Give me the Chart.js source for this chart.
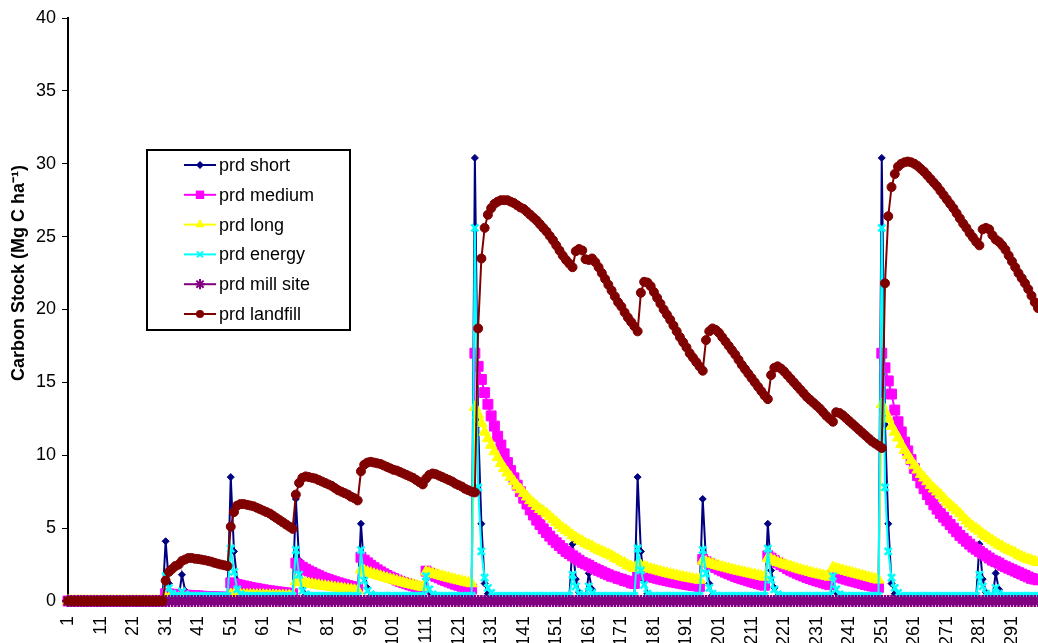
<!DOCTYPE html>
<html>
<head>
<meta charset="utf-8">
<script src="https://cdn.jsdelivr.net/npm/chart.js@4.4.1/dist/chart.umd.min.js"></script>
<style>
  html, body { margin: 0; padding: 0; background: #fff; }
  #wrap { width: 1038px; height: 643px; }
</style>
</head>
<body>
<div id="wrap"><canvas id="chart" width="1038" height="643"></canvas></div>
<script>
// years 1..299 on the category axis, a label every 10 years
const years = Array.from({ length: 299 }, (_, i) => String(i + 1));
const yTicks = [0, 5, 10, 15, 20, 25, 30, 35, 40];
const yTitle = 'Carbon Stock (Mg C ha\u207B\u00B9)';
const seriesNames = ['prd short', 'prd medium', 'prd long', 'prd energy', 'prd mill site', 'prd landfill'];

const prdShort = [
  0, 0, 0, 0, 0, 0, 0, 0, 0, 0,
  0, 0, 0, 0, 0, 0, 0, 0, 0, 0,
  0, 0, 0, 0, 0, 0, 0, 0, 0, 0,
  4.1, 1.2, 0.4, 0.2, 0.2, 1.8, 0.7, 0.3, 0.2, 0.2,
  0.2, 0.2, 0.2, 0.2, 0.2, 0.2, 0.2, 0.2, 0.2, 0.2,
  8.5, 3.4, 1.4, 0.5, 0.2, 0.2, 0.2, 0.2, 0.2, 0.2,
  0.2, 0.2, 0.2, 0.2, 0.2, 0.2, 0.2, 0.2, 0.2, 0.2,
  7.0, 2.8, 1.2, 0.4, 0.2, 0.2, 0.2, 0.2, 0.2, 0.2,
  0.2, 0.2, 0.2, 0.2, 0.2, 0.2, 0.2, 0.2, 0.2, 0.2,
  5.3, 2.1, 0.9, 0.35, 0.2, 0.2, 0.2, 0.2, 0.2, 0.2,
  0.2, 0.2, 0.2, 0.2, 0.2, 0.2, 0.2, 0.2, 0.2, 0.2,
  1.5, 0.6, 0.3, 0.2, 0.2, 0.2, 0.2, 0.2, 0.2, 0.2,
  0.2, 0.2, 0.2, 0.2, 0.2, 30.4, 12.1, 5.3, 1.2, 0.5,
  0.3, 0.2, 0.2, 0.2, 0.2, 0.2, 0.2, 0.2, 0.2, 0.2,
  0.2, 0.2, 0.2, 0.2, 0.2, 0.2, 0.2, 0.2, 0.2, 0.2,
  0.2, 0.2, 0.2, 0.2, 0.2, 3.9, 1.5, 0.6, 0.3, 0.2,
  1.9, 0.8, 0.3, 0.2, 0.2, 0.2, 0.2, 0.2, 0.2, 0.2,
  0.2, 0.2, 0.2, 0.2, 0.2, 8.5, 3.4, 1.4, 0.5, 0.2,
  0.2, 0.2, 0.2, 0.2, 0.2, 0.2, 0.2, 0.2, 0.2, 0.2,
  0.2, 0.2, 0.2, 0.2, 0.2, 7.0, 2.8, 1.2, 0.4, 0.2,
  0.2, 0.2, 0.2, 0.2, 0.2, 0.2, 0.2, 0.2, 0.2, 0.2,
  0.2, 0.2, 0.2, 0.2, 0.2, 5.3, 2.1, 0.9, 0.35, 0.2,
  0.2, 0.2, 0.2, 0.2, 0.2, 0.2, 0.2, 0.2, 0.2, 0.2,
  0.2, 0.2, 0.2, 0.2, 0.2, 1.5, 0.6, 0.3, 0.2, 0.2,
  0.2, 0.2, 0.2, 0.2, 0.2, 0.2, 0.2, 0.2, 0.2, 0.2,
  30.4, 12.1, 5.3, 1.2, 0.5, 0.3, 0.2, 0.2, 0.2, 0.2,
  0.2, 0.2, 0.2, 0.2, 0.2, 0.2, 0.2, 0.2, 0.2, 0.2,
  0.2, 0.2, 0.2, 0.2, 0.2, 0.2, 0.2, 0.2, 0.2, 0.2,
  3.9, 1.5, 0.6, 0.3, 0.2, 1.9, 0.8, 0.3, 0.2, 0.2,
  0.2, 0.2, 0.2, 0.2, 0.2, 0.2, 0.2, 0.2, 0.2
];

const prdMedium = [
  0, 0, 0, 0, 0, 0, 0, 0, 0, 0,
  0, 0, 0, 0, 0, 0, 0, 0, 0, 0,
  0, 0, 0, 0, 0, 0, 0, 0, 0, 0,
  0.5, 0.48, 0.46, 0.45, 0.43, 0.42, 0.4, 0.39, 0.37, 0.36,
  0.35, 0.33, 0.32, 0.31, 0.3, 0.29, 0.28, 0.27, 0.26, 0.25,
  1.25, 1.19, 1.13, 1.08, 1.03, 0.98, 0.93, 0.89, 0.85, 0.81,
  0.77, 0.73, 0.7, 0.67, 0.64, 0.61, 0.58, 0.55, 0.53, 0.5,
  2.6, 2.45, 2.31, 2.18, 2.06, 1.95, 1.84, 1.74, 1.64, 1.55,
  1.47, 1.39, 1.32, 1.25, 1.18, 1.12, 1.06, 1.0, 0.95, 0.9,
  3.0, 2.8, 2.62, 2.45, 2.29, 2.14, 2.0, 1.87, 1.75, 1.64,
  1.54, 1.44, 1.35, 1.27, 1.19, 1.11, 1.04, 0.97, 0.9, 0.84,
  2.05, 1.92, 1.8, 1.69, 1.59, 1.49, 1.4, 1.31, 1.23, 1.15,
  1.08, 1.01, 0.94, 0.88, 0.82,
  17.0, 16.1, 15.2, 14.3, 13.5, 12.7, 12.0, 11.3, 10.7, 10.1,
  9.5, 8.95, 8.45, 7.95, 7.5, 7.05, 6.65, 6.25, 5.9, 5.55,
  5.25, 4.95, 4.7, 4.45, 4.2, 4.0, 3.8, 3.6, 3.4, 3.25,
  3.1, 2.95, 2.8, 2.65, 2.55, 2.45, 2.3, 2.2, 2.1, 2.0,
  1.9, 1.8, 1.7, 1.65, 1.55, 1.5, 1.4, 1.35, 1.25, 1.2,
  1.95, 1.88, 1.8, 1.74, 1.68, 1.62, 1.56, 1.5, 1.45, 1.4,
  1.35, 1.3, 1.26, 1.22, 1.18, 1.14, 1.1, 1.07, 1.04, 1.0,
  2.85, 2.7, 2.56, 2.43, 2.3, 2.18, 2.07, 1.97, 1.87, 1.78,
  1.69, 1.61, 1.53, 1.46, 1.39, 1.32, 1.26, 1.2, 1.14, 1.08,
  3.1, 2.94, 2.78, 2.63, 2.49, 2.36, 2.23, 2.11, 2.0, 1.9,
  1.8, 1.71, 1.62, 1.54, 1.46, 1.39, 1.32, 1.25, 1.18, 1.12,
  1.8, 1.72, 1.64, 1.57, 1.5, 1.43, 1.37, 1.31, 1.25, 1.19,
  1.13, 1.08, 1.03, 0.98, 0.93,
  17.0, 16.0, 15.1, 14.2, 13.1, 12.3, 11.6, 10.9, 10.3, 9.7,
  9.1, 8.6, 8.1, 7.7, 7.3, 6.95, 6.6, 6.3, 6.0, 5.75,
  5.5, 5.25, 5.0, 4.75, 4.5, 4.3, 4.1, 3.9, 3.7, 3.55,
  3.4, 3.25, 3.1, 2.95, 2.8, 2.7, 2.6, 2.45, 2.35, 2.25,
  2.15, 2.05, 1.95, 1.85, 1.75, 1.65, 1.55, 1.5, 1.45
];

const prdLong = [
  0, 0, 0, 0, 0, 0, 0, 0, 0, 0,
  0, 0, 0, 0, 0, 0, 0, 0, 0, 0,
  0, 0, 0, 0, 0, 0, 0, 0, 0, 0,
  0.2, 0.2, 0.2, 0.19, 0.19, 0.19, 0.18, 0.18, 0.18, 0.18,
  0.17, 0.17, 0.17, 0.17, 0.16, 0.16, 0.16, 0.16, 0.15, 0.15,
  0.45, 0.44, 0.44, 0.43, 0.43, 0.42, 0.42, 0.41, 0.41, 0.4,
  0.4, 0.39, 0.39, 0.38, 0.38, 0.37, 0.37, 0.36, 0.36, 0.35,
  1.35, 1.31, 1.27, 1.23, 1.19, 1.15, 1.11, 1.08, 1.04, 1.01,
  0.98, 0.95, 0.92, 0.89, 0.86, 0.83, 0.8, 0.77, 0.74, 0.72,
  2.15, 2.07, 1.99, 1.91, 1.84, 1.77, 1.7, 1.63, 1.56, 1.5,
  1.44, 1.38, 1.32, 1.26, 1.2, 1.15, 1.1, 1.04, 0.99, 0.94,
  2.0, 1.94, 1.88, 1.82, 1.76, 1.7, 1.64, 1.58, 1.52, 1.46,
  1.41, 1.36, 1.3, 1.25, 1.2,
  13.3, 12.8, 12.2, 11.6, 11.15, 10.7, 10.25, 9.85, 9.45, 9.1,
  8.8, 8.5, 8.2, 7.9, 7.65, 7.4, 7.15, 6.9, 6.7, 6.5,
  6.3, 6.15, 6.0, 5.8, 5.6, 5.4, 5.2, 5.0, 4.85, 4.7,
  4.5, 4.35, 4.2, 4.1, 3.95, 3.85, 3.75, 3.6, 3.5, 3.4,
  3.3, 3.2, 3.1, 2.95, 2.85, 2.7, 2.6, 2.45, 2.35, 2.25,
  2.5, 2.42, 2.35, 2.28, 2.2, 2.14, 2.08, 2.02, 1.96, 1.9,
  1.85, 1.8, 1.75, 1.7, 1.65, 1.6, 1.56, 1.52, 1.48, 1.44,
  2.75, 2.67, 2.6, 2.53, 2.46, 2.4, 2.34, 2.28, 2.22, 2.16,
  2.1, 2.05, 2.0, 1.95, 1.9, 1.85, 1.8, 1.75, 1.7, 1.65,
  2.95, 2.85, 2.75, 2.66, 2.58, 2.5, 2.43, 2.36, 2.29, 2.22,
  2.15, 2.09, 2.03, 1.97, 1.91, 1.85, 1.8, 1.75, 1.7, 1.65,
  2.3, 2.23, 2.16, 2.1, 2.04, 1.98, 1.92, 1.86, 1.8, 1.74,
  1.68, 1.62, 1.56, 1.5, 1.45,
  13.5, 13.0, 12.5, 12.0, 11.6, 11.2, 10.75, 10.35, 10.0, 9.65,
  9.3, 9.0, 8.7, 8.45, 8.2, 7.95, 7.7, 7.5, 7.3, 7.05,
  6.8, 6.6, 6.4, 6.2, 6.0, 5.75, 5.5, 5.3, 5.1, 4.95,
  4.8, 4.6, 4.45, 4.3, 4.15, 4.0, 3.85, 3.75, 3.6, 3.5,
  3.4, 3.3, 3.15, 3.05, 2.95, 2.85, 2.8, 2.7, 2.65
];

const prdEnergy = [
  0, 0, 0, 0, 0, 0, 0, 0, 0, 0,
  0, 0, 0, 0, 0, 0, 0, 0, 0, 0,
  0, 0, 0, 0, 0, 0, 0, 0, 0, 0,
  1.7, 0.9, 0.5, 0.35, 0.35, 0.65, 0.45, 0.35, 0.35, 0.35,
  0.35, 0.35, 0.35, 0.35, 0.35, 0.35, 0.35, 0.35, 0.35, 0.35,
  3.6, 2.0, 0.8, 0.45, 0.35, 0.35, 0.35, 0.35, 0.35, 0.35,
  0.35, 0.35, 0.35, 0.35, 0.35, 0.35, 0.35, 0.35, 0.35, 0.35,
  3.5, 1.8, 0.7, 0.45, 0.35, 0.35, 0.35, 0.35, 0.35, 0.35,
  0.35, 0.35, 0.35, 0.35, 0.35, 0.35, 0.35, 0.35, 0.35, 0.35,
  3.5, 1.4, 0.7, 0.45, 0.35, 0.35, 0.35, 0.35, 0.35, 0.35,
  0.35, 0.35, 0.35, 0.35, 0.35, 0.35, 0.35, 0.35, 0.35, 0.35,
  1.7, 0.8, 0.45, 0.35, 0.35, 0.35, 0.35, 0.35, 0.35, 0.35,
  0.35, 0.35, 0.35, 0.35, 0.35, 25.6, 7.8, 3.4, 1.6, 0.9,
  0.55, 0.35, 0.35, 0.35, 0.35, 0.35, 0.35, 0.35, 0.35, 0.35,
  0.35, 0.35, 0.35, 0.35, 0.35, 0.35, 0.35, 0.35, 0.35, 0.35,
  0.35, 0.35, 0.35, 0.35, 0.35, 1.8, 1.0, 0.5, 0.35, 0.35,
  1.0, 0.55, 0.35, 0.35, 0.35, 0.35, 0.35, 0.35, 0.35, 0.35,
  0.35, 0.35, 0.35, 0.35, 0.35, 3.6, 2.1, 1.1, 0.5, 0.35,
  0.35, 0.35, 0.35, 0.35, 0.35, 0.35, 0.35, 0.35, 0.35, 0.35,
  0.35, 0.35, 0.35, 0.35, 0.35, 3.5, 1.9, 0.9, 0.5, 0.35,
  0.35, 0.35, 0.35, 0.35, 0.35, 0.35, 0.35, 0.35, 0.35, 0.35,
  0.35, 0.35, 0.35, 0.35, 0.35, 3.6, 1.45, 0.8, 0.45, 0.35,
  0.35, 0.35, 0.35, 0.35, 0.35, 0.35, 0.35, 0.35, 0.35, 0.35,
  0.35, 0.35, 0.35, 0.35, 0.35, 1.7, 0.8, 0.45, 0.35, 0.35,
  0.35, 0.35, 0.35, 0.35, 0.35, 0.35, 0.35, 0.35, 0.35, 0.35,
  25.6, 7.8, 3.4, 1.6, 0.9, 0.55, 0.35, 0.35, 0.35, 0.35,
  0.35, 0.35, 0.35, 0.35, 0.35, 0.35, 0.35, 0.35, 0.35, 0.35,
  0.35, 0.35, 0.35, 0.35, 0.35, 0.35, 0.35, 0.35, 0.35, 0.35,
  1.8, 1.0, 0.5, 0.35, 0.35, 0.9, 0.5, 0.35, 0.35, 0.35,
  0.35, 0.35, 0.35, 0.35, 0.35, 0.35, 0.35, 0.35, 0.35
];

const prdMillSite = [
  0, 0, 0, 0, 0, 0, 0, 0, 0, 0, 0, 0, 0, 0, 0, 0, 0, 0, 0, 0,
  0, 0, 0, 0, 0, 0, 0, 0, 0, 0, 0, 0, 0, 0, 0, 0, 0, 0, 0, 0,
  0, 0, 0, 0, 0, 0, 0, 0, 0, 0, 0, 0, 0, 0, 0, 0, 0, 0, 0, 0,
  0, 0, 0, 0, 0, 0, 0, 0, 0, 0, 0, 0, 0, 0, 0, 0, 0, 0, 0, 0,
  0, 0, 0, 0, 0, 0, 0, 0, 0, 0, 0, 0, 0, 0, 0, 0, 0, 0, 0, 0,
  0, 0, 0, 0, 0, 0, 0, 0, 0, 0, 0, 0, 0, 0, 0, 0, 0, 0, 0, 0,
  0, 0, 0, 0, 0, 0, 0, 0, 0, 0, 0, 0, 0, 0, 0, 0, 0, 0, 0, 0,
  0, 0, 0, 0, 0, 0, 0, 0, 0, 0, 0, 0, 0, 0, 0, 0, 0, 0, 0, 0,
  0, 0, 0, 0, 0, 0, 0, 0, 0, 0, 0, 0, 0, 0, 0, 0, 0, 0, 0, 0,
  0, 0, 0, 0, 0, 0, 0, 0, 0, 0, 0, 0, 0, 0, 0, 0, 0, 0, 0, 0,
  0, 0, 0, 0, 0, 0, 0, 0, 0, 0, 0, 0, 0, 0, 0, 0, 0, 0, 0, 0,
  0, 0, 0, 0, 0, 0, 0, 0, 0, 0, 0, 0, 0, 0, 0, 0, 0, 0, 0, 0,
  0, 0, 0, 0, 0, 0, 0, 0, 0, 0, 0, 0, 0, 0, 0, 0, 0, 0, 0, 0,
  0, 0, 0, 0, 0, 0, 0, 0, 0, 0, 0, 0, 0, 0, 0, 0, 0, 0, 0, 0,
  0, 0, 0, 0, 0, 0, 0, 0, 0, 0, 0, 0, 0, 0, 0, 0, 0, 0, 0
];

const prdLandfill = [
  0, 0, 0, 0, 0, 0, 0, 0, 0, 0,
  0, 0, 0, 0, 0, 0, 0, 0, 0, 0,
  0, 0, 0, 0, 0, 0, 0, 0, 0, 0,
  1.4, 2.0, 2.2, 2.4, 2.5, 2.75, 2.85, 2.95, 2.95, 2.9,
  2.88, 2.84, 2.8, 2.75, 2.7, 2.62, 2.56, 2.5, 2.45, 2.4,
  5.1, 6.1, 6.55, 6.65, 6.65, 6.6, 6.55, 6.5, 6.4, 6.3,
  6.2, 6.1, 6.0, 5.85, 5.7, 5.55, 5.4, 5.25, 5.1, 4.95,
  7.3, 8.1, 8.45, 8.55, 8.5, 8.45, 8.4, 8.3, 8.2, 8.1,
  8.0, 7.9, 7.75, 7.6, 7.5, 7.4, 7.3, 7.15, 7.05, 6.9,
  8.9, 9.35, 9.5, 9.55, 9.5, 9.45, 9.4, 9.3, 9.2, 9.1,
  9.0, 8.95, 8.85, 8.75, 8.65, 8.55, 8.45, 8.3, 8.15, 8.0,
  8.4, 8.65, 8.75, 8.7, 8.6, 8.5, 8.4, 8.3, 8.2, 8.05,
  7.95, 7.85, 7.7, 7.6, 7.5,
  7.45, 18.7, 23.5, 25.6, 26.5, 26.95, 27.25, 27.4, 27.5, 27.5,
  27.5, 27.4, 27.3, 27.15, 27.0, 26.9, 26.7, 26.5, 26.3, 26.1,
  25.85, 25.6, 25.35, 25.05, 24.75, 24.4, 24.05, 23.7, 23.4, 23.15,
  22.9,
  24.0, 24.15, 24.05, 23.45, 23.4, 23.5, 23.25, 22.9, 22.5, 22.1,
  21.7, 21.3, 20.9, 20.5, 20.2, 19.8, 19.45, 19.15, 18.85, 18.5,
  21.15, 21.9, 21.85, 21.6, 21.2, 20.8, 20.4, 20.0, 19.65, 19.3,
  18.9, 18.5, 18.1, 17.75, 17.4, 17.0, 16.7, 16.4, 16.1, 15.8,
  17.9, 18.5, 18.7, 18.6, 18.4, 18.1, 17.8, 17.5, 17.2, 16.9,
  16.55, 16.2, 15.9, 15.6, 15.3, 15.0, 14.7, 14.4, 14.1, 13.85,
  15.5, 16.0, 16.1, 15.95, 15.75, 15.5, 15.25, 15.0, 14.75, 14.5,
  14.25, 14.0, 13.8, 13.6, 13.4, 13.2, 12.95, 12.7, 12.5, 12.3,
  12.95, 12.9, 12.75, 12.55, 12.35, 12.15, 11.95, 11.75, 11.55, 11.35,
  11.15, 10.95, 10.8, 10.65, 10.5,
  21.8, 26.4, 28.4, 29.3, 29.8, 30.0, 30.1, 30.15, 30.1, 30.0,
  29.85, 29.65, 29.45, 29.2, 28.95, 28.7, 28.45, 28.15, 27.85, 27.55,
  27.25, 26.95, 26.6, 26.25, 25.9, 25.6, 25.25, 24.95, 24.65, 24.4,
  25.5, 25.6, 25.5, 25.1, 24.8, 24.65, 24.4, 24.1, 23.7, 23.3,
  22.9, 22.5, 22.15, 21.8, 21.4, 20.95, 20.5, 20.1
];

const allSeries = [prdShort, prdMedium, prdLong, prdEnergy, prdMillSite, prdLandfill];
allSeries.forEach((s, i) => {
  if (s.length !== years.length) throw new Error(seriesNames[i] + ' has ' + s.length + ' values');
});

const colors = ['#000080', '#FF00FF', '#FFFF00', '#00FFFF', '#800080', '#800000'];
const markers = ['rectRot', 'rect', 'triangle', 'crossRot', 'star', 'circle'];
const radii = [3.5, 7, 6.5, 5, 6, 4.5];

const FONT = "'Liberation Sans', Arial, sans-serif";

// excel draws later series on top, chart.js draws lower order on top
const datasets = allSeries.map((data, i) => ({
  label: seriesNames[i],
  data: data,
  borderColor: colors[i],
  backgroundColor: colors[i],
  borderWidth: 2,
  pointStyle: markers[i],
  pointRadius: radii[i],
  pointBorderColor: colors[i],
  pointBackgroundColor: colors[i],
  pointBorderWidth: (markers[i] === 'crossRot' || markers[i] === 'star') ? 2.5 : 1,
  tension: 0,
  clip: false,
  order: 6 - i
}));

function drawMarker(ctx, style, x, y, r, color) {
  ctx.save();
  ctx.fillStyle = color;
  ctx.strokeStyle = color;
  ctx.lineWidth = 2;
  ctx.beginPath();
  if (style === 'circle') {
    ctx.arc(x, y, r, 0, Math.PI * 2);
    ctx.fill();
  } else if (style === 'rect') {
    const s = r / Math.SQRT2;
    ctx.fillRect(x - s, y - s, 2 * s, 2 * s);
  } else if (style === 'rectRot') {
    ctx.moveTo(x, y - r); ctx.lineTo(x + r, y); ctx.lineTo(x, y + r); ctx.lineTo(x - r, y);
    ctx.closePath(); ctx.fill();
  } else if (style === 'triangle') {
    ctx.moveTo(x, y - r);
    ctx.lineTo(x + r * 0.866, y + r * 0.5);
    ctx.lineTo(x - r * 0.866, y + r * 0.5);
    ctx.closePath(); ctx.fill();
  } else {
    const d = r * 0.707;
    ctx.moveTo(x - d, y - d); ctx.lineTo(x + d, y + d);
    ctx.moveTo(x + d, y - d); ctx.lineTo(x - d, y + d);
    if (style === 'star') {
      ctx.moveTo(x, y - r); ctx.lineTo(x, y + r);
      ctx.moveTo(x - r, y); ctx.lineTo(x + r, y);
    }
    ctx.stroke();
  }
  ctx.restore();
}

// boxed legend inside the plot plus the rotated y title
const overlay = {
  id: 'overlay',
  afterDraw(chart) {
    const ctx = chart.ctx;
    ctx.save();
    ctx.fillStyle = '#fff';
    ctx.fillRect(147, 150, 203, 180);
    ctx.strokeStyle = '#000';
    ctx.lineWidth = 2;
    ctx.strokeRect(147, 150, 203, 180);

    ctx.font = '18px ' + FONT;
    ctx.textBaseline = 'middle';
    ctx.textAlign = 'left';
    seriesNames.forEach((name, i) => {
      const y = 165 + i * 29.8;
      ctx.strokeStyle = colors[i];
      ctx.lineWidth = 2;
      ctx.beginPath();
      ctx.moveTo(184, y);
      ctx.lineTo(216, y);
      ctx.stroke();
      drawMarker(ctx, markers[i], 200, y, Math.max(radii[i] * 0.85, 4), colors[i]);
      ctx.fillStyle = '#000';
      ctx.fillText(name, 219, y + 1);
    });

    ctx.translate(19, 273);
    ctx.rotate(-Math.PI / 2);
    ctx.font = 'bold 18px ' + FONT;
    ctx.textAlign = 'center';
    ctx.fillStyle = '#000';
    ctx.fillText(yTitle, 0, 0);
    ctx.restore();
  }
};

new Chart(document.getElementById('chart'), {
  type: 'line',
  data: { labels: years, datasets: datasets },
  options: {
    responsive: false,
    devicePixelRatio: 1,
    animation: false,
    layout: { autoPadding: false, padding: { top: 18, right: 0, bottom: 0, left: 0 } },
    plugins: { legend: { display: false }, tooltip: { enabled: false } },
    scales: {
      x: {
        type: 'category',
        offset: false,
        grid: { display: false, drawTicks: false },
        border: { display: true, color: '#000', width: 1 },
        ticks: {
          autoSkip: false,
          minRotation: 90,
          maxRotation: 90,
          padding: 15,
          color: '#000',
          font: { family: FONT, size: 18 },
          callback: (v, i) => (i % 10 === 0 ? years[i] : null)
        },
        afterFit: s => { s.height = 42; s.paddingLeft = 0; s.paddingRight = 0; }
      },
      y: {
        min: yTicks[0],
        max: yTicks[yTicks.length - 1],
        afterBuildTicks: s => { s.ticks = yTicks.map(v => ({ value: v })); },
        grid: { drawOnChartArea: false, drawTicks: true, tickLength: 6, color: '#000' },
        border: { display: true, color: '#000', width: 2 },
        ticks: {
          padding: 6,
          color: '#000',
          font: { family: FONT, size: 18 }
        },
        afterFit: s => { s.width = 68; s.paddingTop = 0; s.paddingBottom = 0; }
      }
    }
  },
  plugins: [overlay]
});
</script>
</body>
</html>
